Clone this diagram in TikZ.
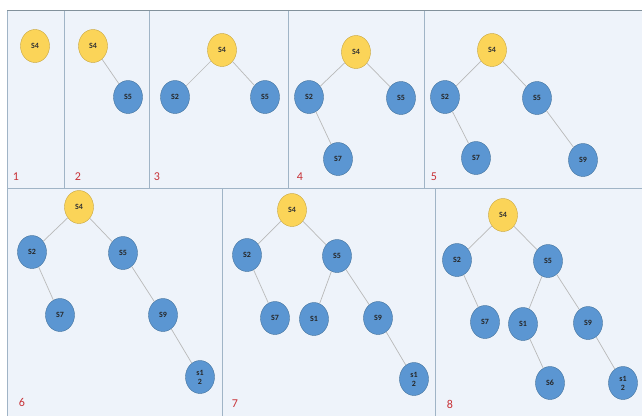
\documentclass[tikz,border=0pt]{standalone}
\usepackage{fontspec}
\setmainfont{Carlito}
\usetikzlibrary{shapes.geometric}
\definecolor{PanelFill}{RGB}{238,243,250}
\definecolor{PanelLine}{RGB}{160,180,198}
\definecolor{TopLine}{RGB}{130,145,155}
\definecolor{RootYellow}{RGB}{251,212,88}
\definecolor{RootEdge}{RGB}{200,165,60}
\definecolor{KeyBlue}{RGB}{91,150,210}
\definecolor{KeyEdge}{RGB}{65,113,156}
\definecolor{StepRed}{RGB}{200,50,55}
\tikzset{
  root/.style={ellipse,draw=RootEdge,fill=RootYellow,thin,
    minimum width=29pt,minimum height=33pt,inner sep=0pt,
    font=\fontsize{8}{8}\selectfont\bfseries,text=black!80},
  key/.style={ellipse,draw=KeyEdge,fill=KeyBlue,thin,
    minimum width=29pt,minimum height=33pt,inner sep=0pt,align=center,
    font=\fontsize{8}{9}\selectfont\bfseries,text=black!85},
  link/.style={draw=gray!55,line width=0.7pt},
  panel/.style={draw=PanelLine,fill=PanelFill,line width=0.6pt},
  steplabel/.style={text=StepRed,font=\fontsize{12}{12}\selectfont,anchor=center}
}
\begin{document}
\begin{tikzpicture}[x=1pt,y=-1pt]
  \useasboundingbox (0,0) rectangle (642,415);
  % panels
  \fill[PanelFill] (7,10) rectangle (642,415);
  \foreach \xa/\xb in {7/64,64/149,149/288,288/424,424/645}
    \draw[panel] (\xa,10) rectangle (\xb,188);
  \foreach \xa/\xb in {7/222,222/435,435/645}
    \draw[panel] (\xa,188) rectangle (\xb,418);
  \draw[TopLine,line width=0.8pt] (7,10) -- (642,10);

  % 1
  \node[root] (a4) at (35,46) {S4};
  \node[steplabel] (n1) at (16,177) {1};

  % 2
  \node[root] (b4) at (93,46) {S4};
  \node[key] (b5) at (128,97) {S5};
  \node[steplabel] (n2) at (78,177) {2};
  \draw[link] (b4) -- (b5);

  % 3
  \node[root] (c4) at (222,50) {S4};
  \node[key] (c2) at (175,97) {S2};
  \node[key] (c5) at (265,97) {S5};
  \node[steplabel] (n3) at (157,177) {3};
  \draw[link] (c4) -- (c2);
  \draw[link] (c4) -- (c5);

  % 4
  \node[root] (d4) at (356,52) {S4};
  \node[key] (d2) at (309,97) {S2};
  \node[key] (d5) at (401,98) {S5};
  \node[key] (d7) at (338,159) {S7};
  \node[steplabel] (n4) at (300,177) {4};
  \draw[link] (d4) -- (d2);
  \draw[link] (d4) -- (d5);
  \draw[link] (d2) -- (d7);

  % 5
  \node[root] (e4) at (492,50) {S4};
  \node[key] (e2) at (445,97) {S2};
  \node[key] (e5) at (537,98) {S5};
  \node[key] (e7) at (476,158) {S7};
  \node[key] (e9) at (583,160) {S9};
  \node[steplabel] (n5) at (434,177) {5};
  \draw[link] (e4) -- (e2);
  \draw[link] (e4) -- (e5);
  \draw[link] (e2) -- (e7);
  \draw[link] (e5) -- (e9);

  % 6
  \node[root] (f4) at (79,207) {S4};
  \node[key] (f2) at (32,252) {S2};
  \node[key] (f5) at (123,253) {S5};
  \node[key] (f7) at (60,315) {S7};
  \node[key] (f9) at (163,315) {S9};
  \node[key] (f12) at (200,377) {s1\\2};
  \node[steplabel] (n6) at (22,402) {6};
  \draw[link] (f4) -- (f2);
  \draw[link] (f4) -- (f5);
  \draw[link] (f2) -- (f7);
  \draw[link] (f5) -- (f9);
  \draw[link] (f9) -- (f12);

  % 7
  \node[root] (g4) at (292,210) {S4};
  \node[key] (g2) at (247,255) {S2};
  \node[key] (g5) at (337,256) {S5};
  \node[key] (g7) at (275,318) {S7};
  \node[key] (g1) at (314,319) {S1};
  \node[key] (g9) at (378,318) {S9};
  \node[key] (g12) at (414,379) {s1\\2};
  \node[steplabel] (n7) at (235,404) {7};
  \draw[link] (g4) -- (g2);
  \draw[link] (g4) -- (g5);
  \draw[link] (g2) -- (g7);
  \draw[link] (g5) -- (g1);
  \draw[link] (g5) -- (g9);
  \draw[link] (g9) -- (g12);

  % 8
  \node[root] (h4) at (503,215) {S4};
  \node[key] (h2) at (457,260) {S2};
  \node[key] (h5) at (548,261) {S5};
  \node[key] (h7) at (485,322) {S7};
  \node[key] (h1) at (523,324) {S1};
  \node[key] (h9) at (588,323) {S9};
  \node[key] (h6) at (550,383) {S6};
  \node[key] (h12) at (623,383) {s1\\2};
  \node[steplabel] (n8) at (450,404) {8};
  \draw[link] (h4) -- (h2);
  \draw[link] (h4) -- (h5);
  \draw[link] (h2) -- (h7);
  \draw[link] (h5) -- (h1);
  \draw[link] (h5) -- (h9);
  \draw[link] (h1) -- (h6);
  \draw[link] (h9) -- (h12);
\end{tikzpicture}
\end{document}
